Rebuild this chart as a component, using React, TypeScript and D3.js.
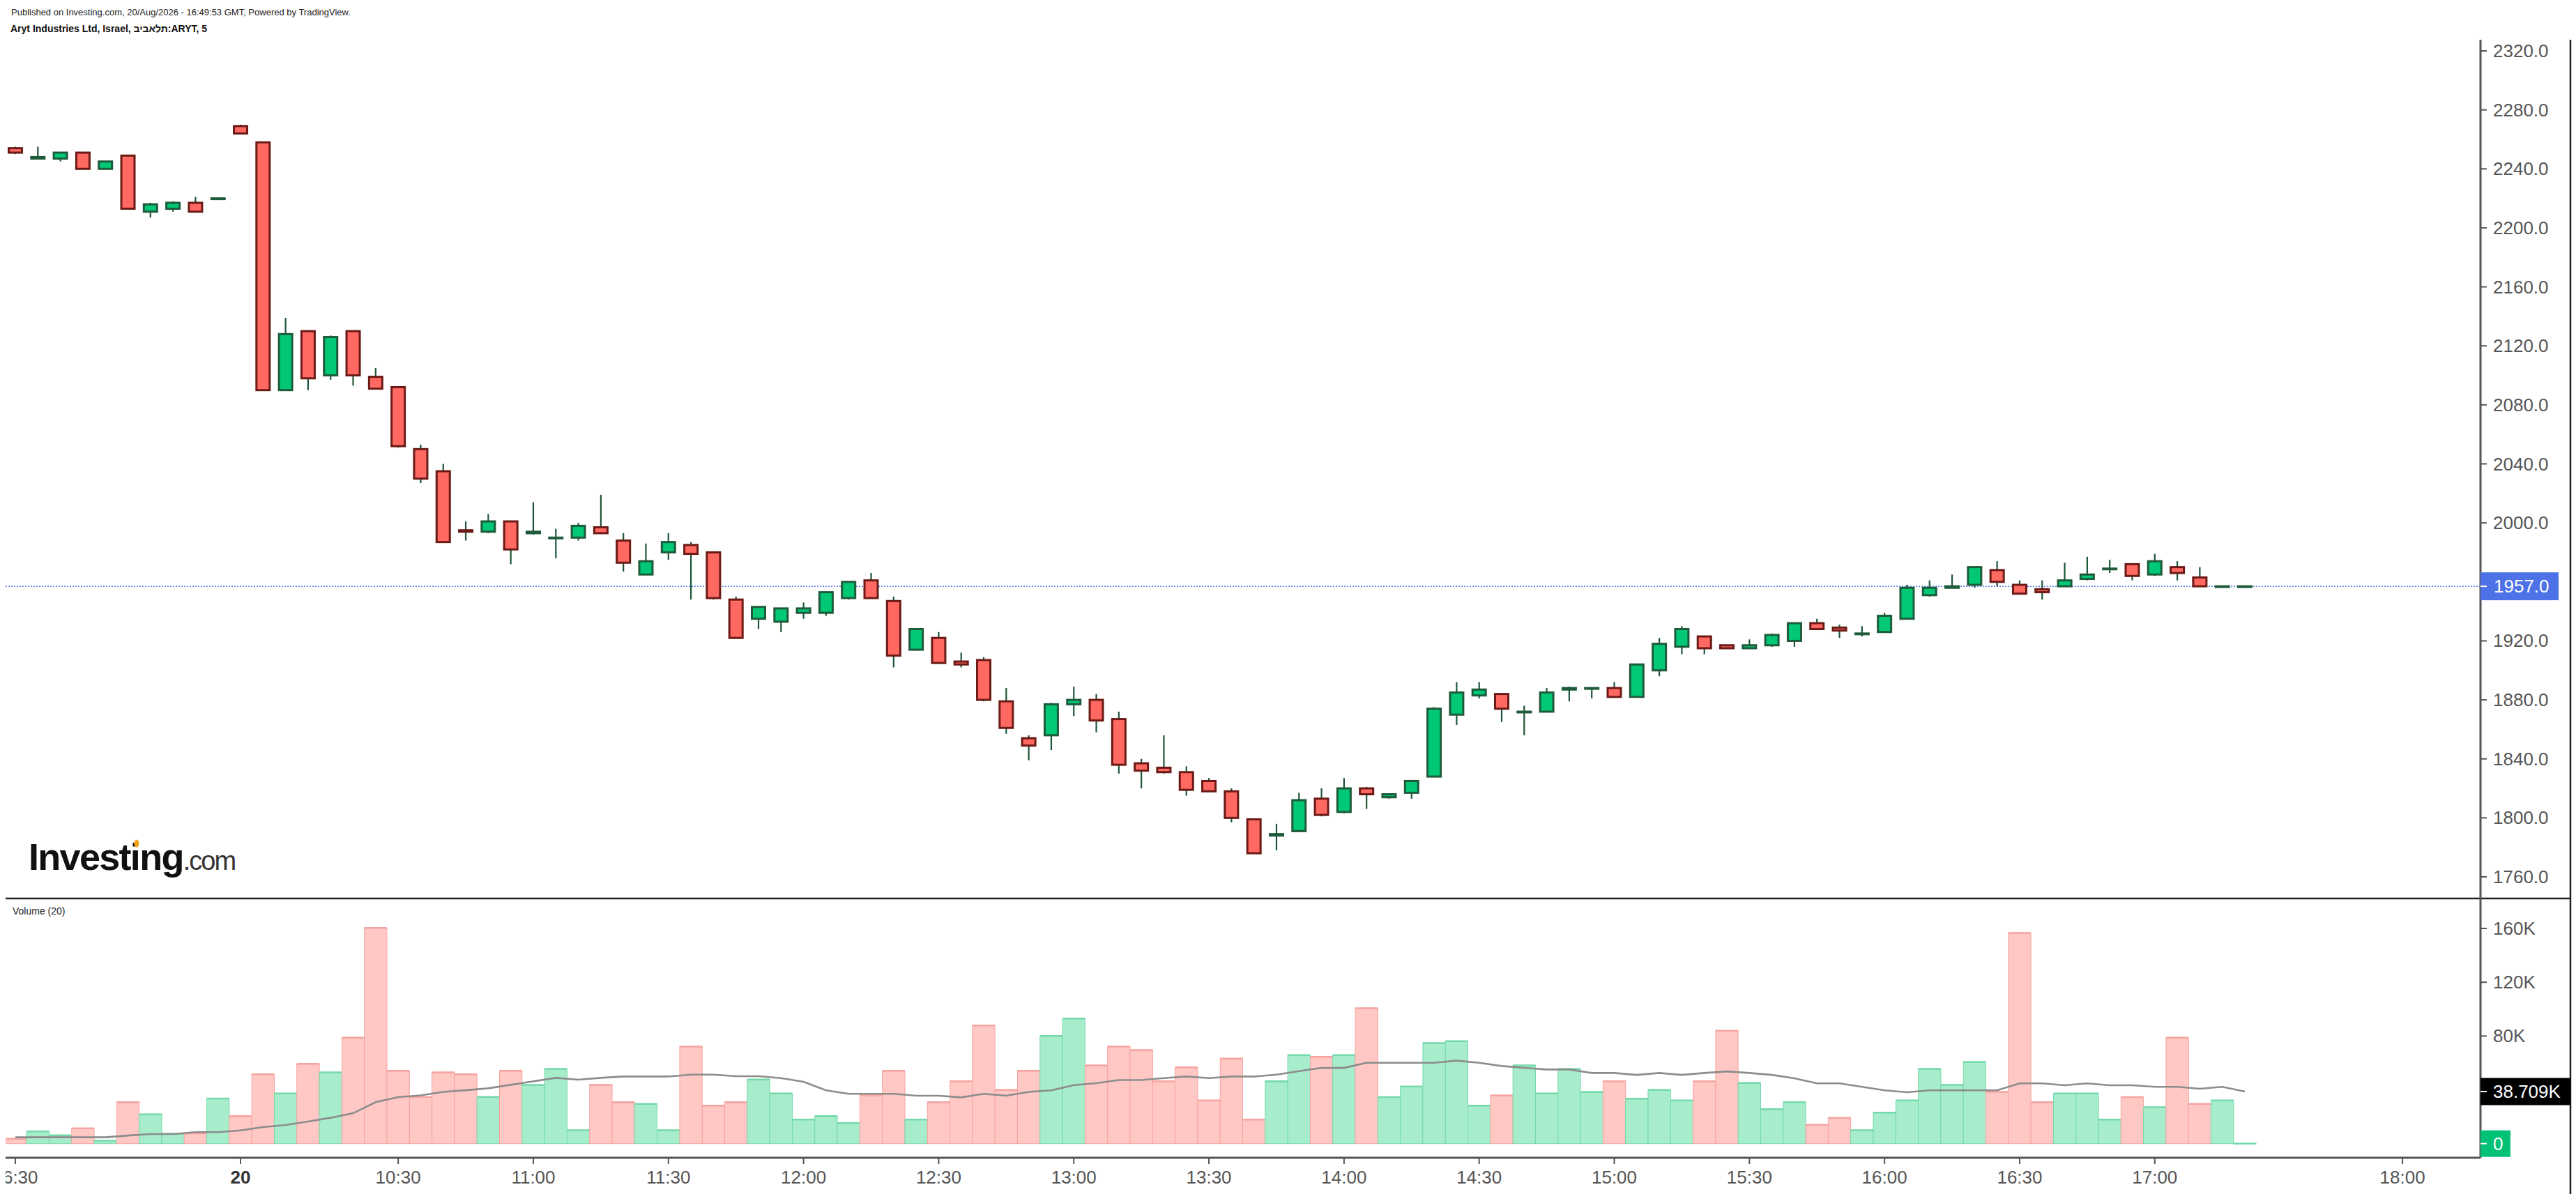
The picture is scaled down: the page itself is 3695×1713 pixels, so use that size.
import React from 'react';
import * as d3 from 'd3';

// 5-minute bars, 19 Aug 16:30 -> 20 Aug 17:20 (bar index based time scale)
const opens = [
  2254, 2247, 2247, 2251, 2240, 2249, 2211, 2213, 2217, 2220,
  2269, 2258, 2090, 2130, 2100, 2130, 2099, 2092, 2050, 2035,
  1995, 1994, 2001, 1993, 1990, 1990, 1997, 1988, 1965, 1980,
  1985, 1980, 1948, 1935, 1933, 1939, 1939, 1949, 1961, 1947,
  1914, 1922, 1906, 1907, 1879, 1854, 1856, 1877, 1880, 1867,
  1837, 1834, 1831, 1825, 1818, 1799, 1788, 1791, 1813, 1804,
  1820, 1814, 1817, 1828, 1870, 1883, 1884, 1872, 1872, 1887,
  1888, 1888, 1882, 1900, 1916, 1923, 1917, 1915, 1917, 1920,
  1932, 1929, 1925, 1926, 1935, 1951, 1956, 1958, 1968, 1958,
  1955, 1957, 1962, 1969, 1972, 1965, 1970, 1963, 1957, 1957,
];
const highs = [
  2255, 2255, 2251, 2251, 2245, 2249, 2217, 2218, 2221, 2220,
  2270, 2258, 2139, 2130, 2127, 2130, 2105, 2092, 2053, 2040,
  2001, 2006, 2001, 2014, 1996, 2000, 2019, 1993, 1986, 1993,
  1987, 1980, 1950, 1943, 1942, 1946, 1953, 1960, 1966, 1950,
  1928, 1926, 1912, 1909, 1888, 1856, 1878, 1889, 1884, 1872,
  1840, 1856, 1835, 1827, 1820, 1799, 1796, 1817, 1820, 1827,
  1821, 1816, 1825, 1875, 1892, 1892, 1884, 1876, 1888, 1889,
  1888, 1892, 1904, 1922, 1930, 1923, 1917, 1921, 1925, 1932,
  1935, 1931, 1930, 1939, 1958, 1961, 1965, 1970, 1974, 1961,
  1961, 1973, 1977, 1975, 1972, 1979, 1974, 1970, 1957, 1957,
];
const lows = [
  2250, 2247, 2245, 2240, 2240, 2213, 2207, 2211, 2211, 2220,
  2264, 2090, 2090, 2090, 2097, 2093, 2091, 2051, 2027, 1987,
  1988, 1993, 1972, 1992, 1976, 1988, 1993, 1967, 1965, 1975,
  1948, 1948, 1922, 1928, 1926, 1935, 1937, 1948, 1949, 1902,
  1914, 1905, 1902, 1879, 1857, 1839, 1846, 1869, 1858, 1830,
  1820, 1830, 1815, 1818, 1797, 1776, 1778, 1791, 1801, 1803,
  1806, 1813, 1813, 1828, 1863, 1881, 1865, 1856, 1872, 1879,
  1881, 1882, 1882, 1896, 1911, 1911, 1915, 1915, 1916, 1916,
  1928, 1922, 1923, 1926, 1935, 1950, 1956, 1956, 1957, 1952,
  1948, 1957, 1961, 1966, 1961, 1964, 1961, 1957, 1957, 1957,
];
const closes = [
  2251, 2248, 2251, 2240, 2245, 2213, 2216, 2217, 2211, 2220,
  2264, 2090, 2128, 2098, 2126, 2100, 2091, 2052, 2030, 1987,
  1994, 2001, 1982, 1994, 1990, 1998, 1993, 1973, 1974, 1987,
  1979, 1949, 1922, 1943, 1942, 1942, 1953, 1960, 1949, 1910,
  1928, 1905, 1904, 1880, 1861, 1849, 1877, 1880, 1866, 1836,
  1832, 1831, 1819, 1818, 1800, 1776, 1789, 1812, 1802, 1820,
  1816, 1816, 1825, 1874, 1885, 1887, 1874, 1872, 1885, 1888,
  1888, 1882, 1904, 1918, 1928, 1915, 1915, 1917, 1924, 1932,
  1928, 1927, 1925, 1937, 1956, 1956, 1957, 1970, 1960, 1952,
  1953, 1961, 1965, 1969, 1964, 1974, 1966, 1957, 1957, 1957,
];
// volume in thousands
const volumes = [
  3.6, 9.0, 6.2, 11.4, 2.2, 30.8, 21.8, 7.3, 7.6, 33.5,
  20.4, 51.5, 37.3, 59.3, 53.0, 78.8, 160.4, 54.1, 34.7, 53.0,
  51.5, 34.7, 54.1, 43.7, 55.5, 10.0, 43.7, 30.8, 29.5, 10.0,
  72.2, 28.2, 30.8, 47.7, 37.3, 17.8, 20.4, 15.2, 35.9, 54.1,
  17.8, 30.8, 46.3, 87.8, 39.9, 54.1, 80.0, 93.0, 58.1, 72.2,
  69.6, 46.3, 56.7, 32.1, 63.2, 17.8, 46.3, 65.8, 64.5, 65.8,
  100.7, 34.6, 42.5, 74.8, 76.2, 28.2, 35.9, 58.1, 37.3, 55.5,
  38.5, 46.3, 33.4, 39.9, 32.1, 46.3, 84.0, 45.1, 25.6, 30.8,
  14.0, 19.2, 10.0, 23.0, 32.1, 55.5, 43.7, 60.7, 38.5, 156.6,
  30.8, 37.3, 37.3, 17.8, 34.6, 27.0, 78.8, 29.5, 32.1, 0,
];
// Volume (20) moving average, as drawn
const volumeMa = [
  4.7, 4.7, 4.7, 4.7, 4.7, 6.0, 7.1, 7.1, 8.5, 8.5,
  9.8, 12.3, 13.8, 16.4, 19.2, 22.6, 30.8, 34.6, 35.9, 38.5,
  39.7, 41.1, 43.7, 46.3, 48.9, 47.5, 48.9, 49.9, 49.9, 49.9,
  51.3, 51.3, 50.1, 50.1, 48.7, 46.0, 39.6, 37.0, 37.0, 37.0,
  35.6, 35.6, 34.4, 37.0, 35.6, 38.5, 39.6, 43.5, 44.9, 47.3,
  47.3, 48.7, 49.9, 48.7, 49.9, 49.9, 51.3, 53.9, 56.3, 56.3,
  60.1, 60.1, 60.1, 60.1, 61.7, 60.1, 57.7, 56.3, 55.1, 55.1,
  52.5, 52.5, 51.1, 52.5, 51.1, 52.5, 53.7, 52.5, 51.1, 48.6,
  44.8, 44.8, 42.2, 39.6, 38.2, 39.6, 39.6, 39.6, 39.6, 44.8,
  44.8, 43.4, 44.8, 43.4, 43.4, 42.2, 42.2, 40.8, 42.2, 38.709,
];

const timeTickIndex = [0, 10, 17, 23, 29, 35, 41, 47, 53, 59, 65, 71, 77, 83, 89, 95, 106];
const timeTickLabels = ['16:30', '20', '10:30', '11:00', '11:30', '12:00', '12:30', '13:00', '13:30',
  '14:00', '14:30', '15:00', '15:30', '16:00', '16:30', '17:00', '18:00'];
const priceTicks = [1760, 1800, 1840, 1880, 1920, 1960, 2000, 2040, 2080, 2120, 2160, 2200, 2240, 2280, 2320];
const volumeTicks = [40, 80, 120, 160];
const lastPrice = 1957;
const lastVolumeMa = 38.709;

const W = 3695;
const H = 1713;
const FONT = '"Liberation Sans", Arial, sans-serif';

const UP_FILL = '#00c875';
const UP_LINE = '#1e5b3b';
const DOWN_FILL = '#ff6961';
const DOWN_LINE = '#6b1a16';
const WICK = '#1d5637';
const VOL_UP = '#a7edcc';
const VOL_UP_LINE = '#74d9aa';
const VOL_DOWN = '#ffc8c5';
const VOL_DOWN_LINE = '#f6a39f';

const App: React.FC = () => {
  const paneLeft = 8;
  const axisX = 3558;
  const rightEdge = 3687;

  const x = d3.scaleLinear().domain([0, 99]).range([22, 3220]);
  const step = x(1) - x(0);
  const yPrice = d3.scaleLinear().domain([1760, 2320]).range([1258, 73]);
  const yVol = d3.scaleLinear().domain([0, 160]).range([1640.7, 1332]);

  const maLine = d3.line<number>()
    .x((_, i) => x(i))
    .y(d => yVol(d));

  const bodyW = 19;
  // labels hidden behind the last-value boxes
  const priceLabelVisible = (t: number) => Math.abs(yPrice(t) - yPrice(lastPrice)) > 30;
  const volLabelVisible = (t: number) => Math.abs(yVol(t) - yVol(lastVolumeMa)) > 30;

  return (
    <svg width={W} height={H} style={{ position: 'absolute', left: 0, top: 0, background: '#fff' }}
      fontFamily={FONT}>
      <defs>
        <clipPath id="pane">
          <rect x={paneLeft} y={0} width={axisX - paneLeft} height={H} />
        </clipPath>
      </defs>
      <rect x={0} y={0} width={W} height={H} fill="#fff" />

      {/* header */}
      <text x={16} y={17} fontSize={13} fill="#222" dominantBaseline="central">
        Published on Investing.com, 20/Aug/2026 - 16:49:53 GMT, Powered by TradingView.
      </text>
      <text x={15} y={41} fontSize={14} fontWeight="bold" fill="#111" dominantBaseline="central">
        Aryt Industries Ltd, Israel, תלאביב:ARYT, 5
      </text>

      {/* last price line */}
      <line x1={paneLeft} x2={axisX} y1={yPrice(lastPrice)} y2={yPrice(lastPrice)}
        stroke="#5b7fe8" strokeWidth={1.5} strokeDasharray="2 2" />

      {/* candles */}
      <g clipPath="url(#pane)">
        {opens.map((o, i) => {
          const c = closes[i];
          const up = c >= o;
          const yTop = yPrice(Math.max(o, c));
          const yBot = yPrice(Math.min(o, c));
          const h = Math.max(yBot - yTop, 1);
          return (
            <g key={i}>
              <line x1={x(i)} x2={x(i)} y1={yPrice(highs[i])} y2={yPrice(lows[i])}
                stroke={WICK} strokeWidth={2.2} />
              <rect x={x(i) - bodyW / 2} y={yTop} width={bodyW} height={h}
                fill={up ? UP_FILL : DOWN_FILL} stroke={up ? UP_LINE : DOWN_LINE} strokeWidth={3} />
            </g>
          );
        })}
      </g>

      {/* logo */}
      <text x={41} y={1248} fill="#111">
        <tspan fontSize={54} fontWeight="bold" letterSpacing={-1.7}>Investing</tspan>
        <tspan fontSize={38} fill="#333" letterSpacing={-2}>.com</tspan>
      </text>
      <ellipse cx={196} cy={1210} rx={3.5} ry={5.5} fill="#f5a21b" />

      {/* pane separator */}
      <line x1={paneLeft} x2={rightEdge} y1={1289} y2={1289} stroke="#222" strokeWidth={2.5} />
      <text x={18} y={1307} fontSize={14} fill="#222" dominantBaseline="central">Volume (20)</text>

      {/* volume bars */}
      <g clipPath="url(#pane)">
        {volumes.map((v, i) => {
          const up = closes[i] >= opens[i];
          const y0 = yVol(0);
          const y1 = yVol(v);
          return (
            <g key={i}>
              <rect x={x(i) - step / 2} y={y1} width={step} height={Math.max(y0 - y1, 0.5)}
                fill={up ? VOL_UP : VOL_DOWN} stroke={up ? VOL_UP_LINE : VOL_DOWN_LINE} strokeWidth={1} />
              <line x1={x(i) - step / 2} x2={x(i) + step / 2} y1={y1} y2={y1}
                stroke={up ? VOL_UP_LINE : VOL_DOWN_LINE} strokeWidth={2.5} />
            </g>
          );
        })}
        <path d={maLine(volumeMa) ?? ''} fill="none" stroke="#8c8c8c" strokeWidth={2.6} />
      </g>

      {/* right price axis */}
      <line x1={axisX} x2={axisX} y1={57} y2={1661} stroke="#555" strokeWidth={3} />
      <line x1={rightEdge} x2={rightEdge} y1={57} y2={H} stroke="#222" strokeWidth={2.5} />
      {priceTicks.map(t => (
        <g key={t}>
          <line x1={axisX} x2={axisX + 9} y1={yPrice(t)} y2={yPrice(t)} stroke="#555" strokeWidth={2} />
          {priceLabelVisible(t) && (
            <text x={3576} y={yPrice(t)} fontSize={26} fill="#555" dominantBaseline="central">
              {d3.format('.1f')(t)}
            </text>
          )}
        </g>
      ))}
      <rect x={axisX} y={yPrice(lastPrice) - 20} width={112} height={40} fill="#4d71e6" />
      <line x1={axisX} x2={axisX + 9} y1={yPrice(lastPrice)} y2={yPrice(lastPrice)} stroke="#fff" strokeWidth={2} />
      <text x={3577} y={yPrice(lastPrice)} fontSize={26} fill="#fff" dominantBaseline="central">
        {d3.format('.1f')(lastPrice)}
      </text>

      {/* volume axis */}
      {volumeTicks.map(t => (
        <g key={t}>
          <line x1={axisX} x2={axisX + 9} y1={yVol(t)} y2={yVol(t)} stroke="#555" strokeWidth={2} />
          {volLabelVisible(t) && (
            <text x={3576} y={yVol(t)} fontSize={26} fill="#555" dominantBaseline="central">{t}K</text>
          )}
        </g>
      ))}
      <rect x={axisX} y={yVol(lastVolumeMa) - 19.5} width={rightEdge - axisX} height={39} fill="#000" />
      <line x1={axisX} x2={axisX + 9} y1={yVol(lastVolumeMa)} y2={yVol(lastVolumeMa)} stroke="#fff" strokeWidth={2} />
      <text x={3576} y={yVol(lastVolumeMa)} fontSize={26} fill="#fff" dominantBaseline="central">
        {lastVolumeMa}K
      </text>
      <rect x={axisX} y={yVol(0) - 19} width={43} height={38} fill="#00c176" />
      <line x1={axisX} x2={axisX + 9} y1={yVol(0)} y2={yVol(0)} stroke="#fff" strokeWidth={2} />
      <text x={3576} y={yVol(0)} fontSize={26} fill="#fff" dominantBaseline="central">0</text>

      {/* time axis */}
      <line x1={paneLeft} x2={axisX} y1={1661} y2={1661} stroke="#555" strokeWidth={3} />
      <g clipPath="url(#pane)">
        {timeTickIndex.map((idx, k) => (
          <g key={k}>
            <line x1={x(idx)} x2={x(idx)} y1={1661} y2={1670} stroke="#555" strokeWidth={2} />
            <text x={x(idx)} y={1689} fontSize={26} textAnchor="middle" dominantBaseline="central"
              fill={timeTickLabels[k] === '20' ? '#333' : '#555'}
              fontWeight={timeTickLabels[k] === '20' ? 'bold' : 'normal'}>
              {timeTickLabels[k]}
            </text>
          </g>
        ))}
      </g>
    </svg>
  );
};

export default App;
